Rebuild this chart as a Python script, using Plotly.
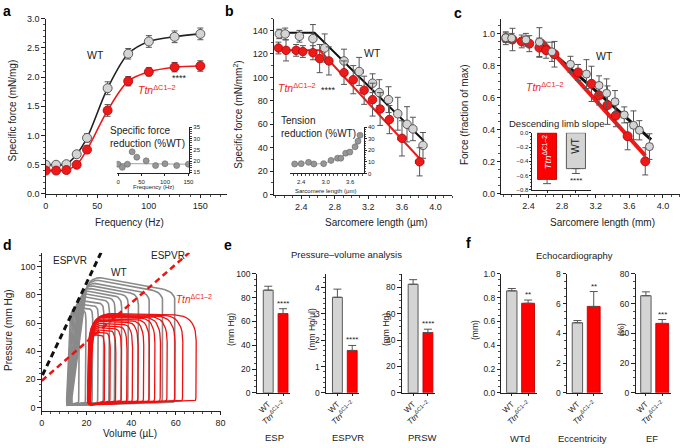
import numpy as np
import plotly.graph_objects as go

W, H = 685, 448
FONT = "Liberation Sans, Arial, sans-serif"
GRAY = "#d4d4d4"
EDGE = "#4a4a4a"
RED = "#ee1a1a"
RED_EDGE = "#b00d0d"
ERR = "#555555"
TTN = "<i>Ttn</i><sup>ΔC1–2</sup>"

# ---------------- data ----------------
# a: force-frequency
freq = [0, 10, 20, 30, 40, 60, 80, 100, 125, 150]
a_wt = [0.50, 0.50, 0.51, 0.68, 0.96, 1.81, 2.40, 2.61, 2.69, 2.74]
a_wt_err = [0.03, 0.03, 0.03, 0.05, 0.07, 0.11, 0.09, 0.10, 0.10, 0.10]
a_tt = [0.40, 0.40, 0.41, 0.50, 0.76, 1.43, 1.93, 2.09, 2.17, 2.19]
a_tt_err = [0.03, 0.03, 0.03, 0.04, 0.06, 0.10, 0.08, 0.07, 0.08, 0.09]
a_in_freq = [0, 9, 20, 30, 40, 60, 80, 100, 125, 150]
a_in_red = [18.6, 17.2, 18.6, 24.1, 21.7, 20.1, 18.0, 18.8, 18.0, 18.6]
a_in_fit_f = [0, 150]
a_in_fit = [18.9, 18.6]

# b: force-sarcomere length
b_wt_sl = [2.14, 2.21, 2.38, 2.54, 2.68, 2.91, 3.09, 3.25, 3.33, 3.44, 3.55, 3.66, 3.73, 3.85]
b_wt = [137, 137, 135, 133, 125, 114, 105, 95, 87, 81, 69, 60, 56, 42]
b_wt_err = [4, 5, 5, 12, 12, 10, 12, 8, 11, 11, 14, 15, 10, 11]
b_wt_xerr = [0, 0, 0, 0, 0, 0, 0.05, 0, 0, 0, 0, 0, 0, 0]
b_tt_sl = [2.13, 2.22, 2.34, 2.42, 2.54, 2.62, 2.73, 2.91, 3.02, 3.15, 3.25, 3.34, 3.45, 3.60, 3.81]
b_tt = [125, 123, 123, 122, 121, 116, 114, 104, 98, 89, 81, 73, 64, 48, 28]
b_tt_err = [5, 9, 5, 5, 6, 12, 12, 10, 12, 12, 14, 14, 12, 15, 12]
b_tt_xerr = [0, 0, 0, 0, 0, 0, 0, 0, 0, 0, 0, 0, 0, 0.05, 0.05]
b_wt_fit_sl = [2.13, 2.56, 3.86]
b_wt_fit = [138, 138, 46]
b_tt_fit_sl = [2.13, 2.62, 3.82]
b_tt_fit = [123, 123, 30]
b_in_sl = [2.24, 2.40, 2.58, 2.71, 2.95, 3.13, 3.29, 3.37, 3.49, 3.59, 3.72, 3.79, 3.84]
b_in_red = [8.2, 8.5, 9.6, 8.2, 8.5, 11.3, 13.2, 13.2, 17.5, 18.5, 23.1, 27.9, 33.0]

# c: normalised force
c_wt_sl = [2.13, 2.20, 2.37, 2.53, 2.68, 2.90, 3.09, 3.24, 3.33, 3.43, 3.54, 3.65, 3.72, 3.84]
c_wt = [0.976, 0.973, 0.963, 0.949, 0.888, 0.81, 0.749, 0.678, 0.629, 0.576, 0.494, 0.429, 0.398, 0.296]
c_wt_err = [0.03, 0.03, 0.04, 0.09, 0.06, 0.05, 0.09, 0.06, 0.09, 0.07, 0.05, 0.09, 0.06, 0.08]
c_tt_sl = [2.13, 2.21, 2.32, 2.41, 2.53, 2.61, 2.71, 2.99, 3.15, 3.24, 3.34, 3.44, 3.58, 3.79]
c_tt = [0.973, 0.965, 0.953, 0.939, 0.914, 0.898, 0.873, 0.759, 0.688, 0.616, 0.555, 0.49, 0.361, 0.204]
c_tt_err = [0.04, 0.07, 0.04, 0.05, 0.06, 0.05, 0.08, 0.05, 0.11, 0.06, 0.12, 0.07, 0.085, 0.085]
c_wt_fit_sl = [2.56, 3.86]
c_wt_fit = [0.94, 0.34]
c_tt_fit_sl = [2.56, 3.79]
c_tt_fit = [0.96, 0.24]
slope_groups = ["Ttn", "WT"]
slope_vals = [-0.654, -0.503]
slope_err = [0.06, 0.068]

# d: pressure-volume loops
wt_edv = [16.5, 19.5, 22.5, 25, 27.5, 30, 32.5, 35.5, 38.5, 43, 48, 54, 59.5]
wt_esv = [11.0, 11.2, 11.4, 11.5, 11.7, 11.8, 12.0, 12.1, 12.3, 12.4, 12.6, 12.8, 13.0]
wt_pes = [68, 70, 72, 74.5, 77, 79.5, 81.5, 83.5, 85.5, 87.5, 89.5, 92, 94]
wt_ves = [12.9, 13.5, 14.2, 14.9, 15.7, 16.4, 17.0, 17.6, 18.2, 18.8, 19.5, 20.2, 20.8]
tt_edv = [28, 30.5, 33, 35.5, 38, 40.5, 43, 45.5, 48, 50.5, 53, 56, 59.5, 63, 69]
tt_esv = [21.8, 21.7, 21.6, 21.5, 21.4, 21.3, 21.2, 21.1, 21.0, 20.9, 20.8, 20.7, 20.6, 20.5, 20.4]
tt_pes = [52, 54, 55.5, 57, 58.5, 60, 61.5, 62.5, 63.5, 64.5, 65, 65.5, 66, 66.5, 67]
wt_espvr_v = [0.3, 26.5]
wt_espvr_p = [23, 110]
tt_espvr_v = [0, 66]
tt_espvr_p = [19, 110]

# e: pressure-volume analysis
pv_names = ["ESP", "ESPVR", "PRSW"]
pv_units = ["(mm Hg)", "(mm Hg/µl)", "(mm Hg)"]
pv_wt = [86.3, 3.63, 82.4]
pv_wt_err = [3.3, 0.31, 3.5]
pv_tt = [66.6, 1.61, 45.8]
pv_tt_err = [4.1, 0.19, 2.5]
pv_stars = ["****", "****", "****"]

# f: echocardiography
ec_names = ["WTd", "Eccentricity", "EF"]
ec_units = ["(mm)", "", "(%)"]
ec_wt = [0.857, 4.71, 65.3]
ec_wt_err = [0.02, 0.15, 2.6]
ec_tt = [0.753, 5.81, 46.7]
ec_tt_err = [0.027, 1.0, 2.6]
ec_stars = ["**", "**", "***"]

group_ticks = ["WT", TTN]

# ---------------- helpers ----------------
def dx(x0, x1):
    return [x0 / W, x1 / W]

def dy(yb, yt):
    return [1 - yb / H, 1 - yt / H]

def base_axis(**kw):
    d = dict(showgrid=False, zeroline=False, showline=True, linecolor="#222",
             linewidth=1, ticks="outside", ticklen=3.5, tickwidth=1, tickcolor="#222",
             tickfont=dict(size=9, color="#222", family=FONT), fixedrange=True)
    d.update(kw)
    return d

def minor(dt, ln=2):
    return dict(dtick=dt, ticks="outside", ticklen=ln, tickcolor="#222", tickwidth=0.8)

def rounded_loop(verts, fin, fout, n=10):
    verts = np.array(verts, float)
    N = len(verts)
    t = np.linspace(0, 1, n)[:, None]
    xs, ys = [], []
    for i in range(N):
        v = verts[i]
        prv = verts[i - 1]
        nxt = verts[(i + 1) % N]
        p0 = v + (prv - v) * fin[i]
        p2 = v + (nxt - v) * fout[i]
        pts = (1 - t) ** 2 * p0 + 2 * (1 - t) * t * v + t ** 2 * p2
        xs.extend(pts[:, 0])
        ys.extend(pts[:, 1])
    xs.append(xs[0])
    ys.append(ys[0])
    return xs, ys

fig = go.Figure()
layout = {}
ann = []

def add_axes(i, xd, yd, xa, ya):
    xs = "" if i == 1 else str(i)
    layout["xaxis" + xs] = base_axis(domain=xd, anchor="y" + xs, **xa)
    layout["yaxis" + xs] = base_axis(domain=yd, anchor="x" + xs, **ya)
    return ("x" + xs, "y" + xs)

def text(x, y, s, size=10, color="#222", xref="paper", yref="paper", angle=0,
         xanchor="center", yanchor="middle", align="center", **kw):
    if xref == "paper":
        x = x / W
    if yref == "paper":
        y = 1 - y / H
    ann.append(dict(x=x, y=y, xref=xref, yref=yref, text=s, showarrow=False,
                    font=dict(size=size, color=color, family=FONT), textangle=angle,
                    xanchor=xanchor, yanchor=yanchor, align=align, **kw))

def marker(fill, edge, size):
    return dict(color=fill, size=size, line=dict(color=edge, width=0.9))

def errs(arr, w=2.5, th=1):
    return dict(type="data", array=arr, visible=True, color=ERR, thickness=th, width=w)

# ---------------- panel a ----------------
xa, ya = add_axes(1, dx(43.3, 226.8), dy(193.3, 14),
                  dict(range=[0, 176], tickvals=[0, 50, 100, 150], minor=minor(10)),
                  dict(range=[0, 3.0], tickvals=[0, 0.5, 1, 1.5, 2, 2.5, 3], tickformat=".1f",
                       minor=minor(0.1)))
fig.add_trace(go.Scatter(x=freq, y=a_wt, mode="lines", line=dict(color="#222", width=1.6, shape="spline", smoothing=0.9), xaxis=xa, yaxis=ya))
fig.add_trace(go.Scatter(x=freq, y=a_tt, mode="lines", line=dict(color=RED, width=1.6, shape="spline", smoothing=0.9), xaxis=xa, yaxis=ya))
fig.add_trace(go.Scatter(x=freq, y=a_wt, mode="markers", marker=marker(GRAY, EDGE, 9), error_y=errs(a_wt_err, 3), xaxis=xa, yaxis=ya))
fig.add_trace(go.Scatter(x=freq, y=a_tt, mode="markers", marker=marker(RED, RED_EDGE, 9), error_y=errs(a_tt_err, 3), xaxis=xa, yaxis=ya))
text(48, 2.37, "WT", 10.5, xref=xa, yref=ya)
text(108, 1.79, TTN, 10.5, RED, xref=xa, yref=ya)
text(130, 1.99, "****", 9, xref=xa, yref=ya)
text(10, 108, "Specific force (mN/mg)", 10, angle=-90)
text(128, 222, "Frequency (Hz)", 10)

# a inset
xa2, ya2 = add_axes(2, dx(115, 188.3), dy(172.3, 125),
                    dict(range=[-3, 151.5], tickvals=[0, 50, 100, 150], ticklen=2, tickfont=dict(size=6, color="#222", family=FONT)),
                    dict(range=[14.5, 35], tickvals=[15, 20, 25, 30, 35], side="right", ticklen=2,
                         tickfont=dict(size=6, color="#222", family=FONT), minor=minor(1, 1.5)))
fig.add_trace(go.Scatter(x=a_in_fit_f, y=a_in_fit, mode="lines", line=dict(color="#888", width=0.8), xaxis=xa2, yaxis=ya2))
fig.add_trace(go.Scatter(x=a_in_freq, y=a_in_red, mode="markers", marker=dict(color="#969696", size=6, line=dict(color="#666", width=0.6)), xaxis=xa2, yaxis=ya2))
text(106, 121, "Specific force<br>reduction (%WT)", 10, xanchor="left", yanchor="top", align="left")
text(152, 186.5, "Frequency (Hz)", 6)

# ---------------- panel b ----------------
xb, yb = add_axes(3, dx(274.3, 454.7), dy(194, 14),
                  dict(range=[2.078, 4.2], tickvals=[2.4, 2.8, 3.2, 3.6, 4.0], tickformat=".1f", minor=minor(0.1)),
                  dict(range=[0, 150], tickvals=list(range(0, 141, 20)), minor=minor(10)))
fig.add_trace(go.Scatter(x=b_wt_fit_sl, y=b_wt_fit, mode="lines", line=dict(color="#111", width=2), xaxis=xb, yaxis=yb))
fig.add_trace(go.Scatter(x=b_tt_fit_sl, y=b_tt_fit, mode="lines", line=dict(color=RED, width=2), xaxis=xb, yaxis=yb))
fig.add_trace(go.Scatter(x=b_wt_sl, y=b_wt, mode="markers", marker=marker(GRAY, EDGE, 8.5), error_y=errs(b_wt_err, 3),
                         error_x=dict(type="data", array=b_wt_xerr, color=ERR, thickness=1, width=2), xaxis=xb, yaxis=yb))
fig.add_trace(go.Scatter(x=b_tt_sl, y=b_tt, mode="markers", marker=marker(RED, RED_EDGE, 8.5), error_y=errs(b_tt_err, 3),
                         error_x=dict(type="data", array=b_tt_xerr, color=ERR, thickness=1, width=2), xaxis=xb, yaxis=yb))
text(3.245, 121, "WT", 10.5, xref=xb, yref=yb)
text(2.35, 91, TTN, 10.5, RED, xref=xb, yref=yb)
text(2.73, 89, "****", 9, xref=xb, yref=yb)
text(237, 112, "Specific force (mN/mm<sup>2</sup>)", 10, angle=-90)
text(377, 222, "Sarcomere length (µm)", 10)

# b inset
xb2, yb2 = add_axes(4, dx(290, 365), dy(172.3, 125),
                    dict(range=[2.117, 3.931], tickvals=[2.4, 3.0, 3.6], tickformat=".1f", ticklen=2,
                         tickfont=dict(size=6, color="#222", family=FONT), minor=minor(0.1, 1.5)),
                    dict(range=[0, 40], tickvals=[0, 10, 20, 30, 40], side="right", ticklen=2,
                         tickfont=dict(size=6, color="#222", family=FONT), minor=minor(2, 1.5)))
fig.add_trace(go.Scatter(x=b_in_sl, y=b_in_red, mode="lines+markers", line=dict(color="#999", width=0.8),
                         marker=dict(color="#969696", size=6, line=dict(color="#666", width=0.6)), xaxis=xb2, yaxis=yb2))
text(279, 110, "Tension<br>reduction (%WT)", 10, xanchor="left", yanchor="top", align="left")
text(326, 190, "Sarcomere length (µm)", 6)

# ---------------- panel c ----------------
xc, yc = add_axes(5, dx(504.3, 684.7), dy(193.3, 14),
                  dict(range=[2.078, 4.2], tickvals=[2.4, 2.8, 3.2, 3.6, 4.0], tickformat=".1f", minor=minor(0.1)),
                  dict(range=[0, 1.095], tickvals=[0, 0.2, 0.4, 0.6, 0.8, 1.0], tickformat=".1f", minor=minor(0.05)))
fig.add_trace(go.Scatter(x=c_wt_fit_sl, y=c_wt_fit, mode="lines", line=dict(color="#111", width=3), xaxis=xc, yaxis=yc))
fig.add_trace(go.Scatter(x=c_tt_fit_sl, y=c_tt_fit, mode="lines", line=dict(color=RED, width=4), xaxis=xc, yaxis=yc))
fig.add_trace(go.Scatter(x=c_tt_sl, y=c_tt, mode="markers", marker=marker(RED, RED_EDGE, 9), error_y=errs(c_tt_err, 3), xaxis=xc, yaxis=yc))
fig.add_trace(go.Scatter(x=c_wt_sl, y=c_wt, mode="markers", marker=marker(GRAY, EDGE, 8), error_y=errs(c_wt_err, 3), xaxis=xc, yaxis=yc))
text(3.3, 0.86, "WT", 10.5, xref=xc, yref=yc)
text(2.6, 0.67, TTN, 10.5, RED, xref=xc, yref=yc)
text(467, 112, "Force (fraction of max)", 10, angle=-90)
text(607, 222, "Sarcomere length (mm)", 10)

# c inset
xc2, yc2 = add_axes(6, dx(535.7, 595), dy(189, 130.7),
                    dict(range=[-0.507, 1.524], tickvals=[0, 1], showticklabels=False, ticklen=2),
                    dict(range=[-0.8, 0], tickvals=[0, -0.2, -0.4, -0.6, -0.8], tickformat=".1f", ticklen=2,
                         tickfont=dict(size=6, color="#222", family=FONT), minor=minor(0.05, 1.5)))
fig.add_trace(go.Bar(x=[0, 1], y=slope_vals, width=0.66, marker=dict(color=["#ff0000", GRAY], line=dict(color=["#b00000", EDGE], width=0.9)),
                     error_y=dict(type="data", array=[0, 0], arrayminus=slope_err, symmetric=False, color=ERR, thickness=1, width=4),
                     xaxis=xc2, yaxis=yc2))
text(550.5, 150.5, TTN, 9.5, "white", angle=-90)
text(579.7, 144, "WT", 10, angle=-90)
text(580, 180, "****", 8)
text(561, 121.7, "Descending limb slope", 9.5)

# ---------------- panel d ----------------
xd, yd = add_axes(7, dx(39.3, 220.7), dy(415.7, 253.3),
                  dict(range=[0, 80.3], tickvals=[0, 20, 40, 60, 80], minor=minor(4), ticklen=3),
                  dict(range=[-2.8, 110], tickvals=[0, 20, 40, 60, 80, 100], minor=minor(4)))
gx, gy = [], []
for esv, edv, pes, ves in zip(wt_esv, wt_edv, wt_pes, wt_ves):
    pr = pes - 0.3 * (edv - ves)
    verts = [(esv, 1.5), (edv, 3.5), (edv + 0.3, pr), (ves, pes)]
    x, y = rounded_loop(verts, [0.06, 0.03, 0.1, 0.18], [0.04, 0.04, 0.15, 0.14])
    gx += x + [None]
    gy += y + [None]
rx, ry = [], []
for esv, edv, pes in zip(tt_esv, tt_edv, tt_pes):
    verts = [(esv, 2.0), (edv, 4.5), (edv + 0.2, pes - 1.5), (esv + 0.8, pes)]
    x, y = rounded_loop(verts, [0.05, 0.02, 0.3, 0.22], [0.03, 0.04, 0.2, 0.35])
    rx += x + [None]
    ry += y + [None]
fig.add_trace(go.Scatter(x=gx, y=gy, mode="lines", line=dict(color="#8a8a8a", width=1.6), xaxis=xd, yaxis=yd))
fig.add_trace(go.Scatter(x=rx, y=ry, mode="lines", line=dict(color="#f01010", width=1.3), xaxis=xd, yaxis=yd))
fig.add_trace(go.Scatter(x=wt_espvr_v, y=wt_espvr_p, mode="lines", line=dict(color="#111", width=3, dash="6px,4px"), xaxis=xd, yaxis=yd))
fig.add_trace(go.Scatter(x=tt_espvr_v, y=tt_espvr_p, mode="lines", line=dict(color="#f01010", width=2.5, dash="6px,4px"), xaxis=xd, yaxis=yd))
text(12.8, 104.5, "ESPVR", 10, xref=xd, yref=yd)
text(34.5, 96, "WT", 10, xref=xd, yref=yd)
text(56.7, 108, "ESPVR", 10, xref=xd, yref=yd)
text(68, 77, TTN, 10, RED, xref=xd, yref=yd)
text(5.5, 332, "Pressure (mm Hg)", 10, angle=-90)
text(128, 438.5, "Volume (µL)", 10)

# ---------------- panel e ----------------
tick_small = dict(size=8.5, color="#222", family=FONT)
tick_rot = dict(size=8, color="#222", family=FONT)
pv_axes_x = [256.7, 326.7, 403.3]
pv_ranges = [[0, 100], [0, 4.52], [0, 90.3]]
pv_ticks = [[0, 20, 40, 60, 80, 100], [0, 1, 2, 3, 4], [0, 20, 40, 60, 80]]
pv_minor = [5, 0.2, 5]
pv_ytitle_x = [230, 312.5, 387]
pv_label_x = [275, 349, 424.3]
for k in range(3):
    ax0 = pv_axes_x[k]
    xk, yk = add_axes(8 + k, dx(ax0, ax0 + 33.3), dy(396.7, 275),
                      dict(range=[-0.778, 1.444], tickvals=[0, 1], ticktext=group_ticks, tickangle=-45,
                           ticklen=2.5, tickfont=tick_rot),
                      dict(range=pv_ranges[k], tickvals=pv_ticks[k], tickfont=tick_small, minor=minor(pv_minor[k])))
    fig.add_trace(go.Bar(x=[0, 1], y=[pv_wt[k], pv_tt[k]], width=0.667,
                         marker=dict(color=[GRAY, "#ff0000"], line=dict(color=[EDGE, "#c00000"], width=0.9)),
                         error_y=dict(type="data", array=[pv_wt_err[k], pv_tt_err[k]], arrayminus=[0, 0], symmetric=False,
                                      color=ERR, thickness=1, width=4),
                         xaxis=xk, yaxis=yk))
    text(1, pv_tt[k] + pv_tt_err[k], pv_stars[k], 8, xref=xk, yref=yk, yanchor="bottom", yshift=-1)
    text(pv_ytitle_x[k], 332, pv_units[k], 8.5, angle=-90)
    text(pv_label_x[k], 442.5, pv_names[k], 9.5)
text(348, 255, "Pressure–volume analysis", 9.5)

# ---------------- panel f ----------------
ec_axes_x = [504.3, 570.7, 640]
ec_ranges = [[0, 1.0], [0, 8], [0, 80]]
ec_ticks = [[0, 0.2, 0.4, 0.6, 0.8, 1.0], [0, 2, 4, 6, 8], [0, 20, 40, 60, 80]]
ec_fmt = [".1f", "d", "d"]
ec_minor = [0.05, 0.5, 5]
ec_ytitle_x = [477, None, 625]
ec_label_x = [523.3, 586.7, 656.7]
for k in range(3):
    ax0 = ec_axes_x[k]
    xk, yk = add_axes(11 + k, dx(ax0, ax0 + 36), dy(396.7, 275),
                      dict(range=[-0.636, 1.545], tickvals=[0, 1], ticktext=group_ticks, tickangle=-45,
                           ticklen=2.5, tickfont=tick_rot),
                      dict(range=ec_ranges[k], tickvals=ec_ticks[k], tickformat=ec_fmt[k], tickfont=tick_small,
                           minor=minor(ec_minor[k])))
    fig.add_trace(go.Bar(x=[0, 1], y=[ec_wt[k], ec_tt[k]], width=[0.636, 0.788],
                         marker=dict(color=[GRAY, "#ff0000"], line=dict(color=[EDGE, "#c00000"], width=0.9)),
                         error_y=dict(type="data", array=[ec_wt_err[k], ec_tt_err[k]], arrayminus=[0, 0], symmetric=False,
                                      color=ERR, thickness=1, width=4),
                         xaxis=xk, yaxis=yk))
    text(1, ec_tt[k] + ec_tt_err[k], ec_stars[k], 8, xref=xk, yref=yk, yanchor="bottom", yshift=-1)
    if ec_units[k]:
        text(ec_ytitle_x[k], 332, ec_units[k], 8.5, angle=-90)
    text(ec_label_x[k], 443, ec_names[k], 9.5)
text(578, 256, "Echocardiography", 9.5)

# panel letters
for s, x, y in [("a", 4, 6), ("b", 229, 6), ("c", 460, 8), ("d", 5, 245), ("e", 228, 245), ("f", 471, 243)]:
    text(x, y, "<b>%s</b>" % s, 14, "#000")

layout.update(dict(width=W, height=H, margin=dict(l=0, r=0, t=0, b=0), showlegend=False,
                   paper_bgcolor="white", plot_bgcolor="rgba(0,0,0,0)",
                   font=dict(family=FONT, color="#222"), annotations=ann, bargap=0))
fig.update_layout(**layout)
fig.write_html("out.html", config={"displayModeBar": False, "staticPlot": True},
               post_script="document.body.style.margin='0px';document.body.style.padding='0px';document.body.style.overflow='hidden';")
